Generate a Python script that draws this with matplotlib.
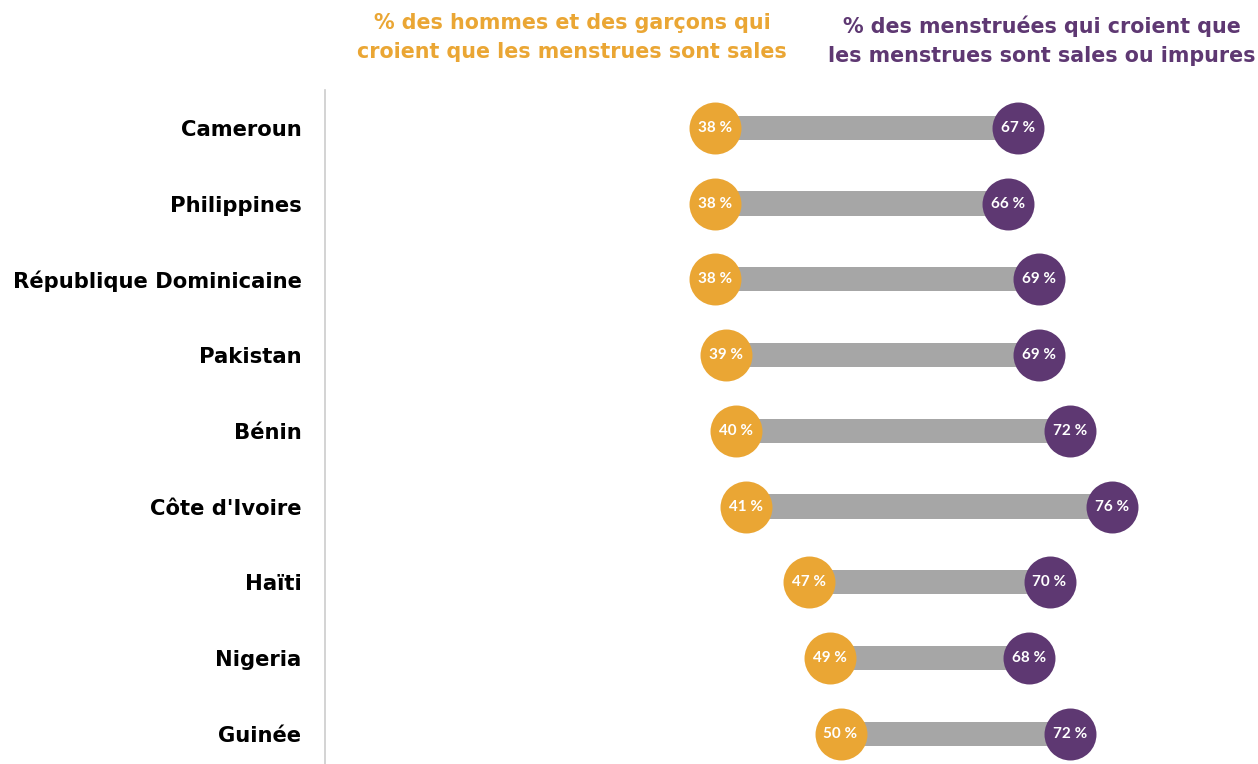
import matplotlib
matplotlib.use('Agg')
import matplotlib.pyplot as plt

countries = ['Cameroun', 'Philippines', 'République Dominicaine', 'Pakistan', 'Bénin',
             "Côte d'Ivoire", 'Haïti', 'Nigeria', 'Guinée']
hommes = [38, 38, 38, 39, 40, 41, 47, 49, 50]
menstruees = [67, 66, 69, 69, 72, 76, 70, 68, 72]

orange = '#eaa634'
violet = '#5e3872'
gris = '#a6a6a6'

plt.rcParams['font.family'] = ['DejaVu Sans']

fig = plt.figure(figsize=(12.58, 7.64), dpi=100)
ax = fig.add_axes([325/1258, 0, (1258-325)/1258, 674/764])

y = list(range(len(countries)))
for i in y:
    ax.barh(i, menstruees[i] - hommes[i], left=hommes[i], height=0.32, color=gris, zorder=1)
ax.scatter(hommes, y, s=1400, color=orange, zorder=3, linewidths=0)
ax.scatter(menstruees, y, s=1400, color=violet, zorder=3, linewidths=0)
for i in y:
    ax.text(hommes[i], i, '%d %%' % hommes[i], color='white', fontsize=11, fontweight='bold',
            ha='center', va='center', zorder=4, family='Lato')
    ax.text(menstruees[i], i, '%d %%' % menstruees[i], color='white', fontsize=11, fontweight='bold',
            ha='center', va='center', zorder=4, family='Lato')

ax.set_xlim(0.67, 89.95)
ax.set_ylim(8.4, -0.5)
ax.set_yticks(y)
ax.set_yticklabels(countries, fontsize=15.2, fontweight='bold')
ax.tick_params(axis='y', length=0, pad=17)
ax.set_xticks([])
for s in ['top', 'right', 'bottom']:
    ax.spines[s].set_visible(False)
ax.spines['left'].set_color('#cccccc')
ax.spines['left'].set_linewidth(1.2)

fig.text(572/1258, 1 - 37.5/764, '% des hommes et des garçons qui\ncroient que les menstrues sont sales',
         color=orange, fontsize=14.9, fontweight='bold', ha='center', va='center', linespacing=1.55)
fig.text(1042/1258, 1 - 40.5/764, '% des menstruées qui croient que\nles menstrues sont sales ou impures',
         color=violet, fontsize=14.9, fontweight='bold', ha='center', va='center', linespacing=1.55)

fig.savefig('out.png', dpi=100)
